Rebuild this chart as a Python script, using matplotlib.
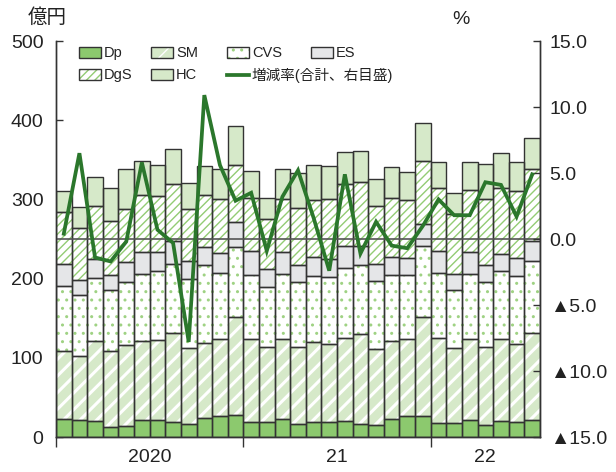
import matplotlib
matplotlib.use('Agg')
import matplotlib.pyplot as plt
import numpy as np
from matplotlib.patches import Patch
from matplotlib.lines import Line2D
from matplotlib.legend import Legend

plt.rcParams['font.family'] = ['Liberation Sans', 'DejaVu Sans', 'Noto Sans CJK JP']

# Monthly data, Jan 2020 - Jul 2022 (億円)
dp  = [23, 21, 20, 12, 14, 21, 22, 19, 17, 24, 26, 28,
       19, 19, 23, 17, 19, 19, 20, 16, 15, 23, 26, 27,
       18, 18, 22, 15, 20, 19, 22]
sm  = [86, 81, 101, 96, 102, 100, 101, 112, 95, 95, 98, 124,
       105, 95, 101, 97, 101, 99, 105, 114, 96, 98, 98, 124,
       107, 95, 102, 99, 104, 99, 109]
cvs = [82, 77, 80, 77, 80, 85, 86, 88, 88, 98, 83, 88,
       80, 75, 82, 82, 83, 84, 89, 87, 86, 83, 80, 90,
       82, 72, 82, 82, 85, 85, 91]
es  = [28, 19, 24, 19, 25, 28, 24, 28, 22, 23, 25, 31,
       31, 23, 28, 21, 24, 23, 27, 24, 21, 23, 22, 28,
       28, 21, 27, 21, 22, 23, 26]
dgs = [65, 66, 67, 69, 67, 71, 71, 73, 66, 66, 68, 73,
       67, 63, 67, 72, 72, 76, 78, 81, 74, 75, 73, 80,
       79, 76, 79, 84, 83, 84, 91]
hc  = [27, 27, 36, 42, 50, 43, 40, 44, 33, 36, 38, 49,
       34, 27, 38, 44, 45, 41, 41, 39, 34, 39, 36, 47,
       33, 26, 35, 44, 44, 37, 38]
growth = [0.4, 6.5, -1.4, -1.7, -0.2, 5.8, 0.7, -0.3, -7.8, 10.9, 5.6, 2.9,
          3.5, -0.9, 3.2, 5.2, 1.6, -2.4, 4.9, -1.1, 1.3, -0.5, -0.7, 1.0,
          3.0, 1.8, 1.8, 4.3, 4.1, 1.7, 4.9]
year_labels = ['2020', '21', '22']
months_per_year = [12, 12, 7]
left_ticks = [0, 100, 200, 300, 400, 500]
right_ticks = [-15, -10, -5, 0, 5, 10, 15]
right_labels = ['▲15.0', '▲10.0', '▲5.0', '0.0', '5.0', '10.0', '15.0']
series_names = ['Dp', 'SM', 'CVS', 'ES', 'DgS', 'HC']
line_name = '増減率(合計、右目盛)'

EDGE = '#333333'
LIGHT = '#d6e9c9'
styles = {
    'Dp':  dict(face='#8cc96e', hcol='#8cc96e', hatch=None, hlw=1.0),
    'SM':  dict(face=LIGHT, hcol='white', hatch='//', hlw=2.2),
    'CVS': dict(face='white', hcol='#9fd283', hatch='..', hlw=1.0),
    'ES':  dict(face='#e5e6e8', hcol='#e5e6e8', hatch=None, hlw=1.0),
    'DgS': dict(face='white', hcol='#93cc74', hatch='////', hlw=1.0),
    'HC':  dict(face=LIGHT, hcol=LIGHT, hatch=None, hlw=1.0),
}
LINE_COLOR = '#2b772c'

fig = plt.figure(figsize=(6.16, 4.72), dpi=100)
ax = fig.add_axes([56/616, 1-437/472, 484/616, 396/472])

x = np.arange(len(dp))
data = [dp, sm, cvs, es, dgs, hc]
bottom = np.zeros(len(dp))
legend_handles = {}
for name, vals in zip(series_names, data):
    st = styles[name]
    vals = np.array(vals, dtype=float)
    plt.rcParams['hatch.linewidth'] = st['hlw']
    bars = ax.bar(x, vals, bottom=bottom, width=1.0, facecolor=st['face'],
                  edgecolor=st['hcol'], hatch=st['hatch'], linewidth=0, zorder=2)
    for b in bars:
        if hasattr(b, 'set_hatch_linewidth'):
            b.set_hatch_linewidth(st['hlw'])
    ax.bar(x, vals, bottom=bottom, width=1.0, fill=False, edgecolor=EDGE,
           linewidth=1.0, zorder=3)
    p1 = Patch(facecolor=st['face'], edgecolor=st['hcol'], hatch=st['hatch'], linewidth=0)
    if hasattr(p1, 'set_hatch_linewidth'):
        p1.set_hatch_linewidth(st['hlw'])
    p2 = Patch(fill=False, edgecolor=EDGE, linewidth=1.0)
    legend_handles[name] = (p1, p2)
    bottom = bottom + vals
plt.rcParams['hatch.linewidth'] = 1.0

ax.set_xlim(-0.5, len(dp) - 0.5)
ax.set_ylim(0, 500)
ax.set_yticks(left_ticks)
ax.set_yticklabels([str(t) for t in left_ticks])
ax.tick_params(axis='y', direction='in', length=5, width=1.0, color=EDGE,
               labelsize=14, pad=9, labelcolor='#222222')

# year separators and labels
edges = np.concatenate([[0], np.cumsum(months_per_year)]) - 0.5
ax.set_xticks(edges[:-1])
ax.set_xticklabels([])
ax.tick_params(axis='x', which='major', direction='out', length=7.5, width=1.0, color=EDGE)
centers = (edges[:-1] + edges[1:]) / 2
ax.set_xticks(centers, minor=True)
ax.set_xticklabels(year_labels, minor=True)
ax.tick_params(axis='x', which='minor', length=0, labelsize=14, pad=9, labelcolor='#222222')

for s in ['left', 'right', 'bottom']:
    ax.spines[s].set_color(EDGE)
    ax.spines[s].set_linewidth(1.0)
ax.spines['top'].set_visible(False)

ax2 = ax.twinx()
ax2.set_ylim(-15, 15)
ax2.set_yticks(right_ticks)
ax2.set_yticklabels(right_labels)
ax2.tick_params(axis='y', direction='in', length=5, width=1.0, color=EDGE,
                labelsize=14, pad=7, labelcolor='#222222')
for s in ['left', 'right', 'bottom']:
    ax2.spines[s].set_color(EDGE)
    ax2.spines[s].set_linewidth(1.0)
ax2.spines['top'].set_visible(False)
ax2.axhline(0, color='#555555', linewidth=1.2, zorder=1)
ax2.plot(x, growth, color=LINE_COLOR, linewidth=2.7, zorder=5, solid_joinstyle='miter')

fig.text(47/616, 1-17/472, '億円', ha='center', va='center', fontsize=14,
         family=['Noto Sans CJK JP'], color='#222222')
fig.text(461/616, 1-19/472, '%', ha='center', va='center', fontsize=14, color='#222222')

line_handle = Line2D([0], [0], color=LINE_COLOR, linewidth=2.7)
columns = [(['Dp', 'DgS'], 77), (['SM', 'HC'], 149), (['CVS', None], 225), (['ES'], 309)]
for names, xpix in columns:
    handles, labels = [], []
    for o in names:
        if o is None:
            handles.append(line_handle)
            labels.append(line_name)
        else:
            handles.append(legend_handles[o])
            labels.append(o)
    leg = Legend(ax2, handles, labels, ncol=1, loc='upper left',
                 bbox_to_anchor=((xpix - 56) / 484, 1 - 3/396), frameon=False,
                 fontsize=10.5, handlelength=1.5, handleheight=0.8,
                 handletextpad=0.2, labelspacing=0.55,
                 borderpad=0.15, borderaxespad=0)
    leg.set_zorder(10)
    for t in leg.get_texts():
        t.set_color('#222222')
        t.set_family(['Liberation Sans', 'Noto Sans CJK JP'])
    ax2.add_artist(leg)

fig.savefig('out.png', dpi=100)
